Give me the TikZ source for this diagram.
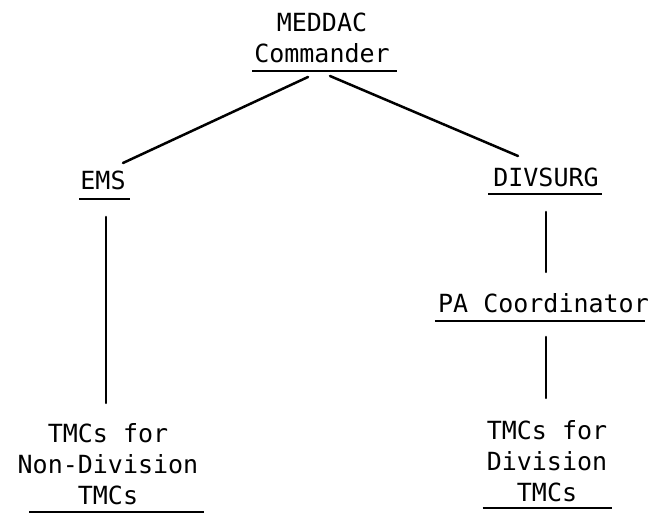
\documentclass[tikz,border=0pt]{standalone}
\usepackage{fontspec}
\setmonofont{DejaVu Sans Mono}
\begin{document}
\begin{tikzpicture}[x=1pt,y=1pt,
  lbl/.style={anchor=south,inner sep=0pt,align=center,
    font=\ttfamily\fontsize{25}{31}\selectfont},
  conn/.style={line width=2.5pt,line cap=round},
  uline/.style={line width=1.6pt}]
\useasboundingbox (0,0) rectangle (657,513);

% organisation units
\node[lbl] (med)  at (322,450)   {MEDDAC\\Commander};
\node[lbl] (ems)  at (103,323)   {EMS};
\node[lbl] (div)  at (546,326)   {DIVSURG};
\node[lbl] (pa)   at (543.5,200) {PA Coordinator};
\node[lbl] (tmcl) at (108,8)     {TMCs for\\Non-Division\\TMCs};
\node[lbl] (tmcr) at (547,11)    {TMCs for\\Division\\TMCs};

% underlines beneath each unit title: node/drop/left overhang/right overhang
\foreach \n/\d/\l/\r in {med/8/-2/7,ems/9/-1/4,div/7/-5/3,pa/8/-3/-4,tmcl/7/12/5,tmcr/6/-4/5}
  \draw[uline] ([shift={(\l,-\d)}]\n.south west) -- ([shift={(\r,-\d)}]\n.south east);

% reporting lines
\draw[conn] ([shift={(-14,-14)}]med.south) -- ([shift={(20,27)}]ems.south);
\draw[conn] ([shift={(8,-13)}]med.south) -- ([shift={(-28,31)}]div.south);
\draw[conn] ([shift={(3,-27)}]ems.south) -- ([shift={(-2,102)}]tmcl.south);
\draw[conn] ([shift={(0,-25)}]div.south) -- ([shift={(2.5,41)}]pa.south);
\draw[conn] ([shift={(2.5,-24)}]pa.south) -- ([shift={(-1,104)}]tmcr.south);
\end{tikzpicture}
\end{document}
